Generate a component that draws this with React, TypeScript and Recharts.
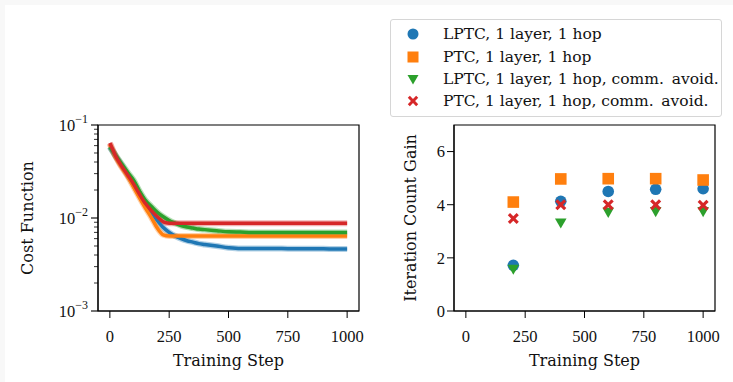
import React from "react";
import {
  LineChart,
  Line,
  ScatterChart,
  Scatter,
  XAxis,
  YAxis,
  ReferenceArea,
  Legend,
  Label,
} from "recharts";

const FONT = '"DejaVu Serif", "Liberation Serif", serif';
const NUM_FONT = '"Liberation Serif", "DejaVu Serif", serif';
const INK = "#111";

// left panel: cost function over training
const steps = [
  0, 25, 50, 75, 100, 125, 150, 175, 200, 225, 250, 275, 300, 325, 350, 375,
  400, 450, 500, 550, 600, 650, 700, 750, 800, 850, 900, 950, 1000,
];
const costLPTC = [
  0.058, 0.046, 0.037, 0.029, 0.023, 0.018, 0.0142, 0.0115, 0.0094, 0.0079,
  0.007, 0.0064, 0.006, 0.0057, 0.0055, 0.0053, 0.0052, 0.005, 0.0048,
  0.0047, 0.0047, 0.0047, 0.0047, 0.00468, 0.00468, 0.00466, 0.00466,
  0.00465, 0.00465,
];
const costPTC = [
  0.062, 0.045, 0.035, 0.028, 0.0215, 0.0165, 0.0128, 0.0101, 0.0078,
  0.0066, 0.0064, 0.0064, 0.0064, 0.0064, 0.0064, 0.0064, 0.0064, 0.0064,
  0.0064, 0.0064, 0.0064, 0.0064, 0.0064, 0.0064, 0.0064, 0.0064, 0.0064,
  0.0064, 0.0064,
];
const costLPTCca = [
  0.058, 0.047, 0.038, 0.031, 0.0255, 0.0195, 0.0155, 0.0133, 0.0115, 0.0103,
  0.0094, 0.0088, 0.0083, 0.008, 0.0078, 0.0076, 0.0075, 0.0073, 0.0071,
  0.00705, 0.007, 0.007, 0.007, 0.007, 0.007, 0.007, 0.007, 0.007, 0.007,
];
const costPTCca = [
  0.064, 0.046, 0.036, 0.029, 0.0232, 0.018, 0.0143, 0.012, 0.0103, 0.0091,
  0.0088, 0.00877, 0.00877, 0.00877, 0.00877, 0.00877, 0.00877, 0.00877,
  0.00877, 0.00877, 0.00877, 0.00877, 0.00877, 0.00877, 0.00877, 0.00877,
  0.00877, 0.00877, 0.00877,
];
const costTicksX = [0, 250, 500, 750, 1000];
const costTicksY = [
  0.001, 0.002, 0.003, 0.004, 0.005, 0.006, 0.007, 0.008, 0.009, 0.01, 0.02,
  0.03, 0.04, 0.05, 0.06, 0.07, 0.08, 0.09, 0.1,
];

// right panel: iteration count gain
const gainSteps = [200, 400, 600, 800, 1000];
const gainLPTC = [1.72, 4.13, 4.5, 4.58, 4.6];
const gainPTC = [4.1, 4.97, 4.98, 4.98, 4.93];
const gainLPTCca = [1.58, 3.32, 3.72, 3.75, 3.75];
const gainPTCca = [3.48, 4.0, 4.0, 4.0, 3.98];
const gainTicksX = [0, 250, 500, 750, 1000];
const gainTicksY = [0, 2, 4, 6];

const series = [
  { key: "lptc", name: "LPTC, 1 layer, 1 hop", color: "#1f77b4", marker: "circle", cost: costLPTC, gain: gainLPTC },
  { key: "ptc", name: "PTC, 1 layer, 1 hop", color: "#ff7f0e", marker: "square", cost: costPTC, gain: gainPTC },
  { key: "lptcca", name: "LPTC, 1 layer, 1 hop, comm.\u2002avoid.", color: "#2ca02c", marker: "tri", cost: costLPTCca, gain: gainLPTCca },
  { key: "ptcca", name: "PTC, 1 layer, 1 hop, comm.\u2002avoid.", color: "#d62728", marker: "x", cost: costPTCca, gain: gainPTCca },
];

const costRows = steps.map((s, i) => {
  const row: any = { step: s };
  series.forEach((se) => (row[se.key] = se.cost[i]));
  return row;
});

const Marker = ({ cx, cy, type, color, s = 5.8 }: any) => {
  if (type === "circle") return <circle cx={cx} cy={cy} r={s} fill={color} />;
  if (type === "square")
    return <rect x={cx - s} y={cy - s} width={2 * s} height={2 * s} fill={color} />;
  if (type === "tri")
    return (
      <polygon
        points={`${cx - s},${cy - s * 0.75} ${cx + s},${cy - s * 0.75} ${cx},${cy + s}`}
        fill={color}
      />
    );
  // filled X
  const a = s * 0.95;
  const w = s * 0.38;
  const pts = [
    [-a + w, -a], [0, -w], [a - w, -a], [a, -a + w], [w, 0], [a, a - w],
    [a - w, a], [0, w], [-a + w, a], [-a, a - w], [-w, 0], [-a, -a + w],
  ]
    .map(([px, py]) => `${cx + px},${cy + py}`)
    .join(" ");
  return <polygon points={pts} fill={color} />;
};

const LogTick = ({ x, y, payload }: any) => {
  const v = payload.value;
  const lg = Math.log10(v);
  const exp = Math.round(lg);
  const major = Math.abs(lg - exp) < 1e-6;
  const ax = x + 10;
  return (
    <g>
      <line x1={ax - (major ? 7 : 4)} x2={ax} y1={y} y2={y} stroke="#000" strokeWidth={major ? 1.1 : 0.8} />
      {major && (
        <text x={ax - 10} y={y + 5.5} textAnchor="end" fill={INK} fontSize={16.5} fontFamily={NUM_FONT}>
          10
          <tspan dy={-8} fontSize={12}>{`\u2212${-exp}`}</tspan>
        </text>
      )}
    </g>
  );
};

const yTitle = (text: string, dx: number) => (props: any) => {
  const vb = props.viewBox;
  const x = vb.x + dx;
  const y = vb.y + vb.height / 2;
  return (
    <text x={x} y={y} transform={`rotate(-90, ${x}, ${y})`} textAnchor="middle" dominantBaseline="central" fill={INK} fontSize={16} fontFamily={FONT}>
      {text}
    </text>
  );
};

const tickStyle = { fill: INK, fontSize: 16.5, fontFamily: NUM_FONT };

const LegendBox = () => (
  <div
    style={{
      border: "1px solid #d6d6d6",
      borderRadius: 3,
      background: "#fff",
      padding: "3px 0 3px 0",
      fontFamily: FONT,
      fontSize: 15.5,
      color: INK,
      boxSizing: "border-box",
    }}
  >
    {series.map((se) => (
      <div key={se.key} style={{ display: "flex", alignItems: "center", height: 22.4 }}>
        <svg width={52} height={22} style={{ flex: "none" }}>
          <Marker cx={22} cy={11} type={se.marker} color={se.color} s={5.5} />
        </svg>
        <span style={{ whiteSpace: "nowrap" }}>{se.name}</span>
      </div>
    ))}
  </div>
);

export default function App() {
  return (
    <div style={{ position: "absolute", left: 0, top: 0, width: 733, height: 382, background: "#f8f8f8" }}>
      <div style={{ position: "absolute", left: 5, top: 5, width: 728, height: 377, background: "#fff" }} />
      <div style={{ position: "absolute", left: 0, top: 0 }}>
        <LineChart width={370} height={382} data={costRows} margin={{ top: 125, right: 11, left: 8, bottom: 5 }}>
          <ReferenceArea x1={-50} x2={1050} y1={0.001} y2={0.1} fill="none" stroke="#000" strokeWidth={1.2} ifOverflow="visible" />
          <XAxis
            dataKey="step"
            type="number"
            domain={[-50, 1050]}
            ticks={costTicksX}
            allowDataOverflow
            height={66}
            tickSize={7}
            tickMargin={12}
            stroke="#000"
            tick={tickStyle}
          >
            <Label position="insideBottom" offset={11} value="Training Step" fill={INK} fontSize={16} fontFamily={FONT} />
          </XAxis>
          <YAxis
            type="number"
            scale="log"
            domain={[0.001, 0.1]}
            allowDataOverflow
            ticks={costTicksY}
            interval={0}
            width={90}
            tickSize={7}
            tickMargin={3}
            tickLine={false}
            stroke="#000"
            tick={<LogTick />}
          >
            <Label content={yTitle("Cost Function", 19)} />
          </YAxis>
          {series.map((se) => (
            <Line
              key={se.key + "-halo"}
              dataKey={se.key}
              stroke={se.color}
              strokeOpacity={0.35}
              strokeWidth={6}
              dot={false}
              type="monotone"
              legendType="none"
              isAnimationActive={false}
            />
          ))}
          {series.map((se) => (
            <Line
              key={se.key}
              dataKey={se.key}
              stroke={se.color}
              strokeWidth={3.5}
              dot={false}
              type="monotone"
              isAnimationActive={false}
            />
          ))}
        </LineChart>
      </div>
      <div style={{ position: "absolute", left: 380, top: 0 }}>
        <ScatterChart width={353} height={382} margin={{ top: 125, right: 18, left: 8, bottom: 5 }}>
          <ReferenceArea x1={-50} x2={1050} y1={0} y2={7} fill="none" stroke="#000" strokeWidth={1.2} ifOverflow="visible" />
          <XAxis
            dataKey="x"
            type="number"
            domain={[-50, 1050]}
            ticks={gainTicksX}
            allowDataOverflow
            height={66}
            tickSize={7}
            tickMargin={12}
            stroke="#000"
            tick={tickStyle}
          >
            <Label position="insideBottom" offset={11} value="Training Step" fill={INK} fontSize={16} fontFamily={FONT} />
          </XAxis>
          <YAxis
            dataKey="y"
            type="number"
            domain={[0, 7]}
            ticks={gainTicksY}
            allowDataOverflow
            width={66}
            tickSize={7}
            tickMargin={2}
            stroke="#000"
            tick={tickStyle}
          >
            <Label content={yTitle("Iteration Count Gain", 22)} />
          </YAxis>
          {series.map((se) => (
            <Scatter
              key={se.key}
              name={se.name}
              data={gainSteps.map((s, i) => ({ x: s, y: se.gain[i] }))}
              fill={se.color}
              shape={(p: any) => <Marker cx={p.cx} cy={p.cy} type={se.marker} color={se.color} />}
              isAnimationActive={false}
            />
          ))}
          <Legend
            verticalAlign="middle"
            align="center"
            layout="vertical"
            content={() => <LegendBox />}
            wrapperStyle={{ position: "absolute", top: 19, left: 10, width: 332 }}
          />
        </ScatterChart>
      </div>
    </div>
  );
}
